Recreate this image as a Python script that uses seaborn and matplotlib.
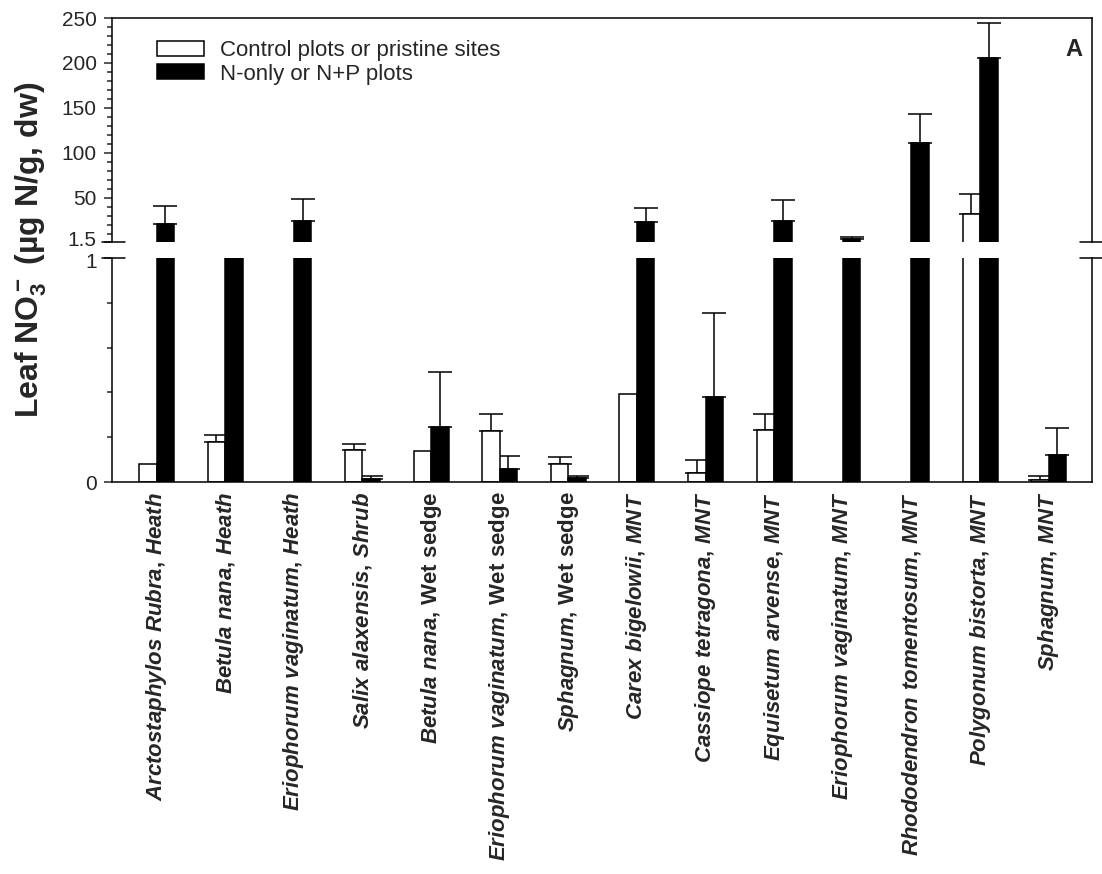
import numpy as np
import pandas as pd
import seaborn as sns
import matplotlib.pyplot as plt
from matplotlib.container import BarContainer
from matplotlib.patches import Patch
from matplotlib.transforms import ScaledTranslation
from matplotlib.ticker import MultipleLocator, FixedLocator

# species / site labels
species = ["Arctostaphylos Rubra, Heath", "Betula nana, Heath",
           "Eriophorum vaginatum, Heath", "Salix alaxensis, Shrub",
           "Betula nana, Wet sedge", "Eriophorum vaginatum, Wet sedge",
           "Sphagnum, Wet sedge", "Carex bigelowii, MNT",
           "Cassiope tetragona, MNT", "Equisetum arvense, MNT",
           "Eriophorum vaginatum, MNT", "Rhododendron tomentosum, MNT",
           "Polygonum bistorta, MNT", "Sphagnum, MNT"]
groups = ["Control plots or pristine sites", "N-only or N+P plots"]

# leaf NO3- (ug N/g dw)
control = [0.079, 0.18, 0, 0.143, 0.14, 0.229, 0.079, 0.393, 0.039, 0.234, 0, 0, 32.5, 0.008]
control_err = [0, 0.03, 0, 0.025, 0, 0.073, 0.033, 0, 0.058, 0.07, 0, 0, 21.5, 0.019]
fert = [21.5, 1.2, 24.4, 0.015, 0.247, 0.058, 0.016, 23.6, 0.378, 24.4, 4.1, 111.4, 205.2, 0.12]
fert_err = [20, 0, 24.1, 0.01, 0.243, 0.057, 0.012, 15.6, 0.375, 23.3, 2.8, 31.6, 38.8, 0.12]

df = pd.DataFrame({
    "species": species * 2,
    "group": [groups[0]] * len(species) + [groups[1]] * len(species),
    "value": control + fert,
})
errs = [control_err, fert_err]

sns.set_style("ticks")
plt.rcParams["font.family"] = ["Liberation Sans", "DejaVu Sans"]
plt.rcParams["mathtext.fontset"] = "custom"
plt.rcParams["mathtext.rm"] = "Liberation Sans:bold"
plt.rcParams["mathtext.it"] = "Liberation Sans:italic:bold"
plt.rcParams["mathtext.bf"] = "Liberation Sans:bold"
plt.rcParams["mathtext.sf"] = "Liberation Sans:bold"


def tick_label(name):
    # species names italic; "Wet sedge" is printed upright
    sp, site = name.split(", ")
    sp = sp.replace(" ", r"\ ")
    site = site.replace(" ", r"\ ")
    if site == r"Wet\ sedge":
        return r"$\mathit{" + sp + r"}\mathsf{{,}\ " + site + "}$"
    return r"$\mathit{" + sp + r"{,}\ " + site + "}$"


fig = plt.figure(figsize=(11.02, 8.74), dpi=100)
ax_top = fig.add_axes([0.1016, 0.7236, 0.8893, 0.2558])
ax_bot = fig.add_axes([0.1016, 0.4485, 0.8893, 0.2563])

lw = 1.1
for ax, lo in ((ax_top, 1.5), (ax_bot, 0)):
    sns.barplot(data=df, x="species", y="value", hue="group", order=species,
                hue_order=groups, palette={groups[0]: "white", groups[1]: "black"},
                edgecolor="black", linewidth=lw, width=0.51, errorbar=None,
                legend=False, ax=ax)
    conts = [c for c in ax.containers if isinstance(c, BarContainer)]
    for cont, e in zip(conts, errs):
        xs, ys, es = [], [], []
        for p, err in zip(cont.patches, e):
            if p.get_height() <= lo:
                p.set_visible(False)
                continue
            if err > 0:
                xs.append(p.get_x() + p.get_width() / 2)
                ys.append(p.get_height())
                es.append(err)
        if xs:
            ax.errorbar(xs, ys, yerr=[np.zeros(len(es)), es], fmt="none",
                        ecolor="black", elinewidth=lw, capsize=8.5, capthick=lw,
                        zorder=0.5)
    ax.set_xlim(-0.65, 13.63)
    ax.set_xlabel("")
    ax.set_ylabel("")
    for s in ax.spines.values():
        s.set_linewidth(lw)
        s.set_color("black")
    ax.tick_params(axis="y", which="major", direction="out", length=6, width=lw,
                   labelsize=15, pad=5)
    ax.tick_params(axis="y", which="minor", direction="out", length=3.5, width=lw)

# upper panel
ax_top.set_ylim(1.5, 250)
ax_top.yaxis.set_major_locator(FixedLocator([1.5, 50, 100, 150, 200, 250]))
ax_top.set_yticklabels(["1.5", "50", "100", "150", "200", "250"])
ax_top.yaxis.set_minor_locator(MultipleLocator(10))
ax_top.spines["bottom"].set_visible(False)
ax_top.tick_params(axis="x", bottom=False, labelbottom=False)

# lower panel
ax_bot.set_ylim(0, 1)
ax_bot.yaxis.set_major_locator(FixedLocator([0, 1]))
ax_bot.set_yticklabels(["0", "1"])
ax_bot.yaxis.set_minor_locator(MultipleLocator(0.2))
ax_bot.spines["top"].set_visible(False)
ax_bot.tick_params(axis="x", length=0, pad=7)
ax_bot.set_xticks(range(len(species)))
ax_bot.set_xticklabels([tick_label(s) for s in species], rotation=90,
                       fontsize=16, fontweight="bold", ha="center", va="top")

# keep the "1.5" and "1" labels at the break slightly apart
lab_hi = ax_top.get_yticklabels()[0]
lab_hi.set_transform(lab_hi.get_transform() + ScaledTranslation(0, 2 / 72, fig.dpi_scale_trans))
lab_lo = ax_bot.get_yticklabels()[1]
lab_lo.set_transform(lab_lo.get_transform() + ScaledTranslation(0, -2 / 72, fig.dpi_scale_trans))

# axis break marks
for ax, y in ((ax_top, 0), (ax_bot, 1)):
    ax.plot([-0.0102, 0.0133], [y, y], transform=ax.transAxes, color="black",
            lw=lw, clip_on=False)
    ax.plot([0.988, 1.0102], [y, y], transform=ax.transAxes, color="black",
            lw=lw, clip_on=False)

handles = [Patch(facecolor="white", edgecolor="black", linewidth=lw),
           Patch(facecolor="black", edgecolor="black", linewidth=lw)]
ax_top.legend(handles=handles, labels=groups, loc="upper left",
              bbox_to_anchor=(0.035, 0.95), frameon=False, fontsize=16,
              handlelength=2.1, handleheight=0.65, borderpad=0, labelspacing=0.1,
              handletextpad=0.7)
ax_top.text(0.99, 0.86, "A", transform=ax_top.transAxes, ha="right", va="center",
            fontsize=17, fontweight="bold")

fig.text(0.028, 1 - 250 / 874, r"Leaf NO$_3^-$ (µg N/g, dw)", rotation=90,
         ha="center", va="center", fontsize=23, fontweight="bold")

fig.savefig("out.png", dpi=100)
